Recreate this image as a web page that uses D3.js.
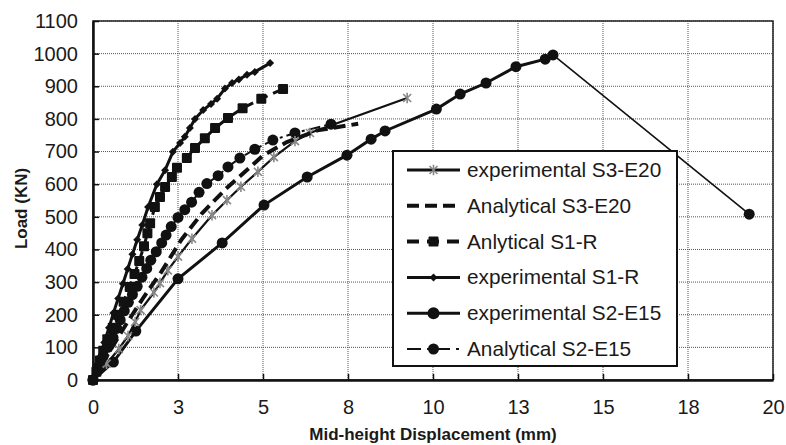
<!DOCTYPE html>
<html><head><meta charset="utf-8">
<script src="https://cdn.jsdelivr.net/npm/d3@7"></script>
<style>
  body { margin: 0; background: #fff; }
  text { font-family: "Liberation Sans", Arial, sans-serif; fill: #1a1a1a; }
</style>
</head><body>
<svg id="chart" width="786" height="445"></svg>
<script>
// Load vs. mid-height displacement, each series as [displacement mm, load kN]
const expS3E20 = [[0,0],[0.4,50],[0.76,95],[1.03,135],[1.24,178],[1.4,214],[1.79,268],[1.97,297],[2.2,336],[2.5,378],[2.91,433],[3.5,505],[3.94,551],[4.35,592],[4.85,638],[5.32,683],[5.94,732],[6.38,757],[9.24,864]];
const anaS3E20 = [[0,0],[0.5,90],[1,175],[1.5,255],[2,330],[2.6,430],[3.2,510],[3.9,585],[4.6,650],[5.0,688],[5.7,729],[6.6,765],[7.8,785]];
const anaS1R = [[0,0],[0.1,25],[0.2,60],[0.3,90],[0.42,125],[0.58,160],[0.72,200],[0.9,240],[1.08,285],[1.22,325],[1.36,365],[1.5,410],[1.6,450],[1.68,480],[1.82,530],[1.97,561],[2.12,591],[2.32,622],[2.47,650],[2.76,680],[3.0,711],[3.29,741],[3.59,772],[3.97,803],[4.4,833],[4.95,862],[5.59,892]];
const expS1R = [[0,0],[0.08,30],[0.2,70],[0.33,115],[0.47,160],[0.6,205],[0.74,250],[0.88,295],[1.02,340],[1.16,385],[1.3,430],[1.45,475],[1.62,530],[1.88,600],[2.12,643],[2.35,699],[2.56,726],[2.7,745],[2.85,772],[3.0,800],[3.24,827],[3.47,846],[3.65,862],[3.88,893],[4.09,910],[4.29,921],[4.53,935],[4.76,944],[5.21,971]];
const expS2E15 = [[0,0],[0.6,55],[1.26,150],[2.5,310],[3.8,420],[5.03,536],[6.3,622],[7.47,689],[8.18,738],[8.59,763],[10.1,830],[10.8,876],[11.56,910],[12.44,960],[13.3,983],[13.53,996],[19.3,508]];
const anaS2E15 = [[0,0],[0.15,40],[0.29,70],[0.44,100],[0.59,130],[0.7,158],[0.8,184],[0.92,212],[1.04,238],[1.16,262],[1.3,287],[1.44,315],[1.58,342],[1.7,367],[1.86,393],[2.02,420],[2.15,444],[2.3,470],[2.5,498],[2.7,522],[2.9,545],[3.12,575],[3.35,602],[3.68,626],[3.97,653],[4.32,680],[4.76,707],[5.29,735],[5.94,757],[7.0,784]];

const xTickValues = [0, 2.5, 5, 7.5, 10, 12.5, 15, 17.5, 20];
const xTickLabels = ["0", "3", "5", "8", "10", "13", "15", "18", "20"];
const yTickValues = [0, 100, 200, 300, 400, 500, 600, 700, 800, 900, 1000, 1100];
const legendLabels = ["experimental S3-E20", "Analytical S3-E20", "Anlytical S1-R", "experimental S1-R", "experimental S2-E15", "Analytical S2-E15"];

const svg = d3.select("#chart");
const W = 786, H = 445;
const m = { left: 93, right: 13, top: 21, bottom: 65 };
const x = d3.scaleLinear().domain([0, 20]).range([m.left, W - m.right]);
const y = d3.scaleLinear().domain([0, 1100]).range([H - m.bottom, m.top]);

// dotted grid
const grid = svg.append("g");
grid.selectAll("line.gx").data(xTickValues.slice(1)).join("line")
  .attr("x1", d => x(d)).attr("x2", d => x(d)).attr("y1", y(0)).attr("y2", y(1100))
  .attr("stroke", "#555").attr("stroke-width", 1).attr("stroke-dasharray", "1,1");
grid.selectAll("line.gy").data(yTickValues.slice(1)).join("line")
  .attr("x1", x(0)).attr("x2", x(20)).attr("y1", d => y(d)).attr("y2", d => y(d))
  .attr("stroke", "#555").attr("stroke-width", 1).attr("stroke-dasharray", "1,1");

// plot frame (top/right)
svg.append("rect").attr("x", x(0)).attr("y", y(1100)).attr("width", x(20) - x(0)).attr("height", y(0) - y(1100))
  .attr("fill", "none").attr("stroke", "#222").attr("stroke-width", 1.5);

// axes with inward ticks
const xAxis = d3.axisBottom(x).tickValues(xTickValues).tickSizeInner(-6).tickSizeOuter(0)
  .tickPadding(20).tickFormat((d, i) => xTickLabels[i]);
const gx = svg.append("g").attr("transform", `translate(0,${y(0)})`).call(xAxis);
const yAxis = d3.axisLeft(y).tickValues(yTickValues).tickSizeInner(-6).tickSizeOuter(0)
  .tickPadding(21).tickFormat(d3.format("d"));
const gy = svg.append("g").attr("transform", `translate(${x(0)},0)`).call(yAxis);
[gx, gy].forEach(g => {
  g.select(".domain").attr("stroke", "#111").attr("stroke-width", 2.5);
  g.selectAll(".tick line").attr("stroke", "#111").attr("stroke-width", 1.5);
  g.selectAll(".tick text").style("font-family", '"Liberation Sans", Arial, sans-serif')
    .style("font-size", "20px").attr("fill", "#1a1a1a");
});
gy.selectAll(".tick text").attr("dx", "6");

// axis titles
svg.append("text").attr("x", x(10)).attr("y", 440).attr("text-anchor", "middle")
  .style("font-size", "17px").style("font-weight", "bold").text("Mid-height Displacement (mm)");
svg.append("text").attr("transform", `translate(27,${(y(0) + y(1100)) / 2 + 8}) rotate(-90)`).attr("text-anchor", "middle")
  .style("font-size", "17px").style("font-weight", "bold").text("Load (KN)");

const line = d3.line().x(d => x(d[0])).y(d => y(d[1]));
const plot = svg.append("g");

// marker painters
function star(g, cx, cy, s) {
  const p = `M${cx - s},${cy - s}L${cx + s},${cy + s}M${cx - s},${cy + s}L${cx + s},${cy - s}M${cx},${cy - s * 1.3}L${cx},${cy + s * 1.3}`;
  g.append("path").attr("d", p).attr("stroke", "#888").attr("stroke-width", 1.6).attr("fill", "none");
}
function square(g, cx, cy, s) {
  g.append("rect").attr("x", cx - s).attr("y", cy - s).attr("width", 2 * s).attr("height", 2 * s).attr("rx", 1).attr("fill", "#111");
}
function diamond(g, cx, cy, s) {
  g.append("path").attr("d", `M${cx},${cy - s}L${cx + s},${cy}L${cx},${cy + s}L${cx - s},${cy}Z`).attr("fill", "#111");
}
function circle(g, cx, cy, r) {
  g.append("circle").attr("cx", cx).attr("cy", cy).attr("r", r).attr("fill", "#111");
}

// Analytical S2-E15: dash-dot line with circles
plot.append("path").datum(anaS2E15).attr("d", line).attr("fill", "none").attr("stroke", "#111")
  .attr("stroke-width", 2).attr("stroke-dasharray", "12,4,3,4");
anaS2E15.forEach(d => circle(plot, x(d[0]), y(d[1]), 5.5));

// experimental S2-E15: solid with circles, thin post-peak segment
const peak = expS2E15.length - 1;
plot.append("path").datum(expS2E15.slice(0, peak)).attr("d", line).attr("fill", "none").attr("stroke", "#111").attr("stroke-width", 3);
plot.append("path").datum(expS2E15.slice(peak - 1)).attr("d", line).attr("fill", "none").attr("stroke", "#111").attr("stroke-width", 1.6);
expS2E15.forEach(d => circle(plot, x(d[0]), y(d[1]), 5.5));

// experimental S3-E20: solid with grey asterisks
plot.append("path").datum(expS3E20).attr("d", line).attr("fill", "none").attr("stroke", "#111").attr("stroke-width", 2.2);
expS3E20.slice(1).forEach(d => star(plot, x(d[0]), y(d[1]), 4));

// Analytical S3-E20: thick dashed
plot.append("path").datum(anaS3E20).attr("d", line).attr("fill", "none").attr("stroke", "#111")
  .attr("stroke-width", 4).attr("stroke-dasharray", "12,6");

// Anlytical S1-R: dashed with squares
plot.append("path").datum(anaS1R).attr("d", line).attr("fill", "none").attr("stroke", "#111")
  .attr("stroke-width", 3).attr("stroke-dasharray", "10,6");
anaS1R.forEach(d => square(plot, x(d[0]), y(d[1]), 5));

// experimental S1-R: solid with small diamonds
plot.append("path").datum(expS1R).attr("d", line).attr("fill", "none").attr("stroke", "#111").attr("stroke-width", 3);
expS1R.forEach(d => diamond(plot, x(d[0]), y(d[1]), 4));

// legend
const lg = svg.append("g");
lg.append("rect").attr("x", 393).attr("y", 151).attr("width", 284).attr("height", 215)
  .attr("fill", "#fff").attr("stroke", "#111").attr("stroke-width", 2);
const rowY = i => 170 + i * 35.8;
const x0 = 407, x1 = 460, xm = 433.5;
const styles = [
  { w: 3, dash: null, mark: (g, cy) => star(g, xm, cy, 4) },
  { w: 4, dash: "12,6", mark: null },
  { w: 4, dash: "12,8", mark: (g, cy) => square(g, xm, cy, 5) },
  { w: 3, dash: null, mark: (g, cy) => diamond(g, xm, cy, 4) },
  { w: 3, dash: null, mark: (g, cy) => circle(g, xm, cy, 6) },
  { w: 2, dash: "14,6,3,6", mark: (g, cy) => circle(g, xm, cy, 5.5) }
];
legendLabels.forEach((lab, i) => {
  const cy = rowY(i), s = styles[i];
  const ln = lg.append("line").attr("x1", x0).attr("x2", x1).attr("y1", cy).attr("y2", cy)
    .attr("stroke", "#111").attr("stroke-width", s.w);
  if (s.dash) ln.attr("stroke-dasharray", s.dash);
  if (s.mark) s.mark(lg, cy);
  lg.append("text").attr("x", 467).attr("y", cy + 7).style("font-size", "20.8px").text(lab);
});
</script>
</body></html>
